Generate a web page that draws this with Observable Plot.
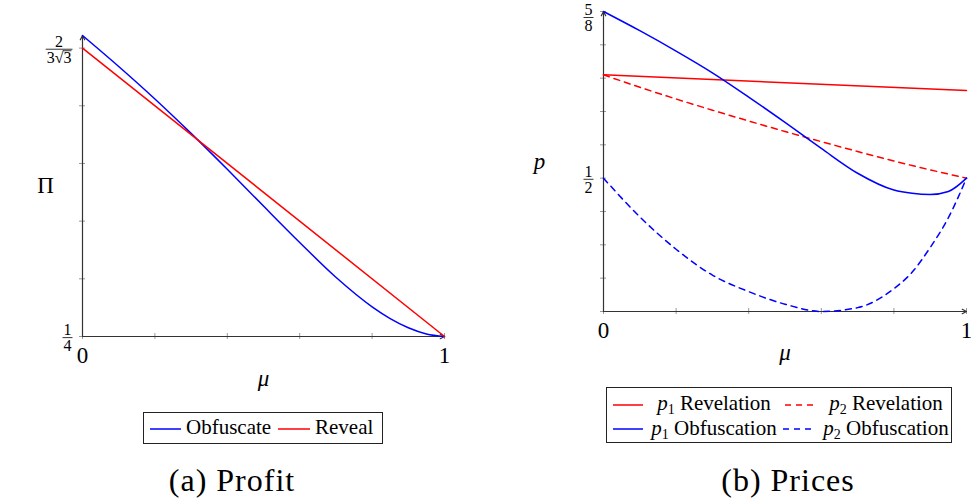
<!DOCTYPE html>
<html>
<head>
<meta charset="utf-8">
<script src="https://cdn.jsdelivr.net/npm/d3@7"></script>
<script src="https://cdn.jsdelivr.net/npm/@observablehq/plot@0.6"></script>
<style>
  html, body { margin: 0; padding: 0; background: #fff; }
  body { width: 971px; height: 502px; position: relative; overflow: hidden;
         font-family: "Liberation Serif", Tinos, "Times New Roman", Times, "Nimbus Roman", FreeSerif, "Noto Serif", "DejaVu Serif", serif; color: #000; }
  .abs { position: absolute; }
  .legend { position: absolute; box-sizing: border-box; border: 1px solid #222; background: #fff; }
  .item { position: absolute; white-space: nowrap; font-size: 21px; line-height: 21px; }
  .sub { font-size: 14px; position: relative; top: 4px; line-height: 0; }
  .caption { position: absolute; width: 260px; text-align: center; font-size: 32px; line-height: 34px; letter-spacing: 1px; }
  svg { overflow: visible; }
</style>
</head>
<body>
<div id="left" class="abs" style="left:0;top:0;"></div>
<div id="right" class="abs" style="left:500px;top:0;"></div>

<div class="legend" style="left:143px;top:412px;width:240px;height:32px;">
  <svg class="item" style="left:6px;top:14px;" width="31" height="4"><line x1="0" x2="31" y1="2" y2="2" stroke="#0000ff" stroke-width="1.5"/></svg>
  <div class="item" style="left:42px;top:4px;">Obfuscate</div>
  <svg class="item" style="left:134px;top:14px;" width="32" height="4"><line x1="0" x2="32" y1="2" y2="2" stroke="#ff0000" stroke-width="1.5"/></svg>
  <div class="item" style="left:171px;top:4px;">Reveal</div>
</div>

<div class="legend" style="left:606px;top:387px;width:346px;height:56px;">
  <svg class="item" style="left:6px;top:15px;" width="30" height="4"><line x1="0" x2="30" y1="2" y2="2" stroke="#ff0000" stroke-width="1.5"/></svg>
  <div class="item" style="left:38px;top:5px;width:138px;text-align:center;"><i>p</i><span class="sub">1</span> Revelation</div>
  <svg class="item" style="left:178px;top:15px;" width="29" height="4"><line x1="0" x2="29" y1="2" y2="2" stroke="#ff0000" stroke-width="1.5" stroke-dasharray="6,5"/></svg>
  <div class="item" style="left:210px;top:5px;width:138px;text-align:center;"><i>p</i><span class="sub">2</span> Revelation</div>

  <svg class="item" style="left:6px;top:39px;" width="30" height="4"><line x1="0" x2="30" y1="2" y2="2" stroke="#0000ff" stroke-width="1.5"/></svg>
  <div class="item" style="left:38px;top:30px;width:138px;text-align:center;"><i>p</i><span class="sub">1</span> Obfuscation</div>
  <svg class="item" style="left:176px;top:39px;" width="31" height="4"><line x1="0" x2="31" y1="2" y2="2" stroke="#0000ff" stroke-width="1.5" stroke-dasharray="6,5"/></svg>
  <div class="item" style="left:210px;top:30px;width:138px;text-align:center;"><i>p</i><span class="sub">2</span> Obfuscation</div>
</div>

<div class="caption" style="left:102px;top:463px;">(a) Profit</div>
<div class="caption" style="left:658px;top:463px;">(b) Prices</div>

<script>
// ---------- data ----------
const muGrid = [0, 0.1, 0.2, 0.3, 0.4, 0.5, 0.6, 0.7, 0.8, 0.85, 0.9, 0.95, 1];

// (a) Profit
const profitObfuscate = [0.3908, 0.3763, 0.3611, 0.3450, 0.3282, 0.3110, 0.2940, 0.2777, 0.2639, 0.2584, 0.2541, 0.2512, 0.25];
const muReveal = [0, 1];
const profitReveal = [0.3849, 0.25];

// (b) Prices
const muP1Revelation = [0, 1];
const p1Revelation = [0.5775, 0.5658];
const p2Revelation = [0.5775, 0.5682, 0.5594, 0.5510, 0.5429, 0.5350, 0.5274, 0.5200, 0.5129, 0.5095, 0.5062, 0.5031, 0.5];
const p1Obfuscation = [0.625, 0.6106, 0.5953, 0.5790, 0.5608, 0.5418, 0.5223, 0.5037, 0.4911, 0.4886, 0.4877, 0.4900, 0.5];
const p2Obfuscation = [0.5, 0.4710, 0.4467, 0.4273, 0.4149, 0.4055, 0.4000, 0.4029, 0.4171, 0.4294, 0.4480, 0.4703, 0.5];

// ticks and tick labels
const xTickValues = [0, 0.2, 0.4, 0.6, 0.8, 1];
const xLabelValues = [0, 1];
const xLabelTexts = ["0", "1"];
const profitTickValues = [0.25, 0.27698, 0.30396, 0.33094, 0.35792, 0.3849];
const profitLabelValues = [0.25, 0.3849];
const profitLabelTexts = ["1/4", "2/3√3"];
const priceTickValues = [0.4, 0.425, 0.45, 0.475, 0.5, 0.525, 0.55, 0.575, 0.6, 0.625];
const priceLabelValues = [0.5, 0.625];
const priceLabelTexts = ["1/2", "5/8"];

const BLUE = "#0000ff", RED = "#ff0000";
const FONT = '"Liberation Serif", Tinos, "Times New Roman", Times, "Nimbus Roman", FreeSerif, "Noto Serif", "DejaVu Serif", serif';
const NS = "http://www.w3.org/2000/svg";
const FRAC_SIZE = 16;

function panel(cfg) {
  const xMap = new Map(cfg.xLabelValues.map((v, i) => [v, cfg.xLabelTexts[i]]));
  const yMap = new Map(cfg.yLabelValues.map((v, i) => [v, cfg.yLabelTexts[i]]));
  const yDomain = d3.extent(cfg.series.flatMap(s => s.values));
  const axisLines = [
    {x1: 0, y1: yDomain[0], x2: 0, y2: yDomain[1]},
    {x1: 0, y1: yDomain[0], x2: 1, y2: yDomain[0]}
  ];
  return Plot.plot({
    width: cfg.width, height: cfg.height,
    marginTop: cfg.margin[0], marginRight: cfg.margin[1], marginBottom: cfg.margin[2], marginLeft: cfg.margin[3],
    x: {domain: [0, 1], label: null},
    y: {domain: yDomain, label: null},
    style: {fontFamily: FONT, fontSize: "23px", background: "transparent", color: "#000", overflow: "visible"},
    marks: [
      Plot.axisX({ticks: cfg.xTicks, tickSize: 6, dy: -3, tickFormat: () => "", stroke: "#999", label: null}),
      Plot.axisY({ticks: cfg.yTicks, tickSize: 6, dx: 3, tickFormat: () => "", stroke: "#999", label: null}),
      Plot.axisX({ticks: cfg.xLabelValues, tickSize: 0, tickPadding: 10, tickFormat: d => xMap.get(d), fontSize: 23, label: null}),
      Plot.axisY({ticks: cfg.yLabelValues, tickSize: 0, tickPadding: 10, tickFormat: d => yMap.get(d), fontSize: FRAC_SIZE, label: null}),
      Plot.arrow(axisLines, {x1: "x1", y1: "y1", x2: "x2", y2: "y2", stroke: "#333", strokeWidth: 1.2, headLength: 6, headAngle: 55}),
      ...cfg.series.map(s => Plot.line(s.mu.map((m, i) => ({mu: m, v: s.values[i]})), {
        x: "mu", y: "v", stroke: s.color, strokeWidth: 1.5, strokeDasharray: s.dash, curve: "monotone-x"
      })),
      Plot.text([cfg.xTitle], {frameAnchor: "bottom", dy: cfg.xTitleDy, lineAnchor: "middle", textAnchor: "middle", fontStyle: "italic", fontSize: 23}),
      Plot.text([cfg.yTitle], {frameAnchor: "left", dx: cfg.yTitleDx, lineAnchor: "middle", textAnchor: "middle", fontStyle: cfg.yTitleStyle, fontSize: 23})
    ]
  });
}

function fractionize(svg) {
  d3.select(svg).selectAll("text").filter(function() { return this.textContent.includes("/"); }).each(function() {
    const el = this;
    const [num, den] = el.textContent.split("/");
    const bb = el.getBBox();
    const right = bb.x + bb.width;
    const cy = bb.y + bb.height / 2 + 1.5;
    const g = document.createElementNS(NS, "g");
    if (el.getAttribute("transform")) g.setAttribute("transform", el.getAttribute("transform"));
    el.parentNode.insertBefore(g, el);
    const inner = document.createElementNS(NS, "g");
    g.appendChild(inner);
    const mk = (s) => {
      const t = document.createElementNS(NS, "text");
      t.setAttribute("font-size", FRAC_SIZE);
      t.setAttribute("font-family", FONT);
      t.setAttribute("fill", "#000");
      t.setAttribute("text-anchor", "middle");
      t.textContent = s;
      inner.appendChild(t);
      return t;
    };
    const tn = mk(num), td = mk(den);
    const w = Math.max(tn.getComputedTextLength(), td.getComputedTextLength()) + 2;
    const cx = right - w / 2;
    tn.setAttribute("x", cx); tn.setAttribute("y", cy - 2.5);
    td.setAttribute("x", cx); td.setAttribute("y", cy + 13.5);
    const bar = document.createElementNS(NS, "line");
    bar.setAttribute("x1", cx - w / 2); bar.setAttribute("x2", cx + w / 2);
    bar.setAttribute("y1", cy); bar.setAttribute("y2", cy);
    bar.setAttribute("stroke", "#000"); bar.setAttribute("stroke-width", "0.8");
    inner.appendChild(bar);
    const k = den.indexOf("√");
    if (k >= 0 && k < den.length - 1) {
      const eR = td.getExtentOfChar(k);
      const eL = td.getExtentOfChar(den.length - 1);
      const v = document.createElementNS(NS, "line");
      const vy = eR.y + 2;
      v.setAttribute("x1", eR.x + eR.width - 0.5); v.setAttribute("x2", eL.x + eL.width);
      v.setAttribute("y1", vy); v.setAttribute("y2", vy);
      v.setAttribute("stroke", "#000"); v.setAttribute("stroke-width", "0.8");
      inner.appendChild(v);
    }
    el.remove();
    // keep the label inside the page if it sits right at the top edge
    const top = tn.getBoundingClientRect().top;
    if (top < 1) inner.setAttribute("transform", `translate(0,${(1 - top).toFixed(2)})`);
  });
}

const leftSvg = panel({
  width: 480, height: 400, margin: [35, 36, 64, 82],
  xTicks: xTickValues, xLabelValues, xLabelTexts,
  yTicks: profitTickValues, yLabelValues: profitLabelValues, yLabelTexts: profitLabelTexts,
  series: [
    {mu: muGrid, values: profitObfuscate, color: BLUE, dash: null},
    {mu: muReveal, values: profitReveal, color: RED, dash: null}
  ],
  xTitle: "μ", xTitleDy: 42, yTitle: "Π", yTitleDx: -37, yTitleStyle: "normal"
});
document.getElementById("left").appendChild(leftSvg);
fractionize(leftSvg);

const rightSvg = panel({
  width: 471, height: 370, margin: [11, 5, 59, 103],
  xTicks: xTickValues, xLabelValues, xLabelTexts,
  yTicks: priceTickValues, yLabelValues: priceLabelValues, yLabelTexts: priceLabelTexts,
  series: [
    {mu: muP1Revelation, values: p1Revelation, color: RED, dash: null},
    {mu: muGrid, values: p2Revelation, color: RED, dash: "6,5"},
    {mu: muGrid, values: p1Obfuscation, color: BLUE, dash: null},
    {mu: muGrid, values: p2Obfuscation, color: BLUE, dash: "6,5"}
  ],
  xTitle: "μ", xTitleDy: 41, yTitle: "p", yTitleDx: -64, yTitleStyle: "italic"
});
document.getElementById("right").appendChild(rightSvg);
fractionize(rightSvg);
</script>
</body>
</html>
